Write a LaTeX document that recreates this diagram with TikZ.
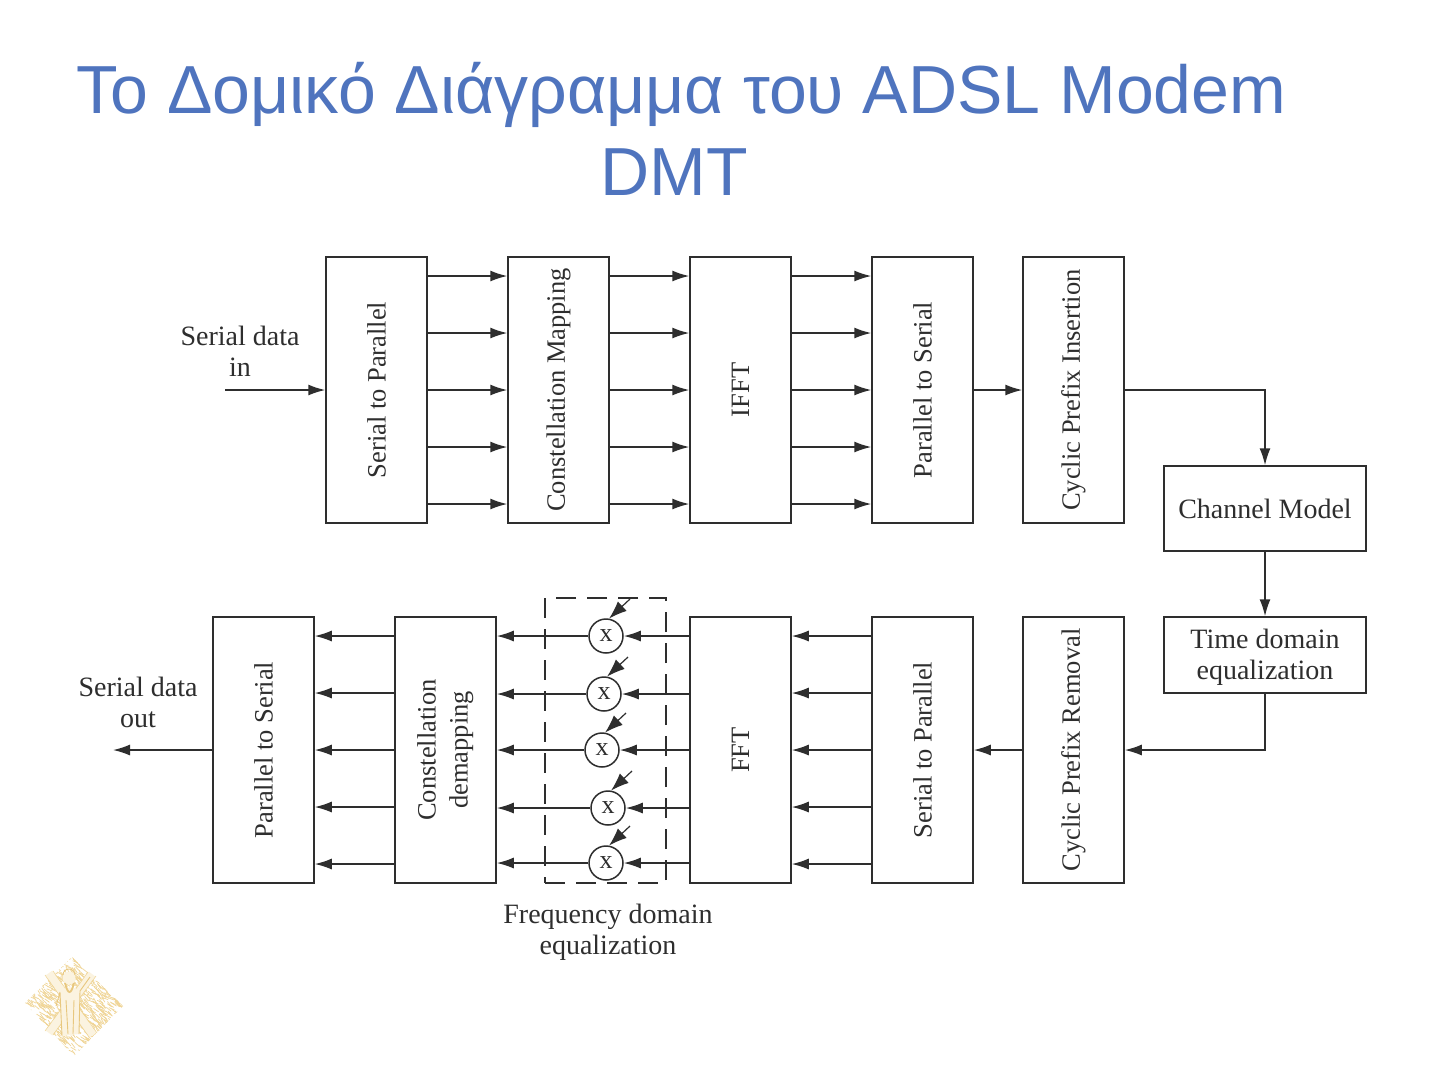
\documentclass[tikz,border=0pt]{standalone}
\usepackage{fontspec}
\setmainfont{Liberation Serif}
\newfontfamily\titlefont{Liberation Sans}
\usetikzlibrary{arrows.meta,calc}
\definecolor{titleblue}{HTML}{4F74BE}
\definecolor{ink}{HTML}{2E2E2E}
\definecolor{gold}{HTML}{F0D596}
\definecolor{goldpale}{HTML}{FBF3E0}
\definecolor{golddeep}{HTML}{E8C77E}
\tikzset{
  every node/.style={font=\fontsize{28}{31}\selectfont,text=ink,inner sep=0pt},
  rotlabel/.style={font=\fontsize{26.5}{31}\selectfont},
  tallbox/.style={draw=ink,line width=1.5pt,minimum width=101pt,minimum height=266pt,align=center,rotlabel},
  widebox/.style={draw=ink,line width=1.5pt,minimum width=202pt,align=center},
  flow/.style={draw=ink,line width=1.5pt,-{Latex[length=17pt,width=11pt]}},
  gain/.style={draw=ink,line width=1.2pt,-{Latex[length=18pt,width=13pt]}},
  mult/.style={circle,draw=ink,line width=1.5pt,minimum size=34pt,fill=white},
  lbl/.style={align=center},
  titletext/.style={font=\titlefont\fontsize{68}{82}\selectfont,text=titleblue,align=center}
}
\begin{document}
\begin{tikzpicture}[x=1pt,y=-1pt]
\useasboundingbox (0,0) rectangle (1440,1080);
\fill[white] (0,0) rectangle (1440,1080);

\node[titletext] (title) at (681.5,129) {Το Δομικό Διάγραμμα του ADSL Modem\\\mbox{DMT\hspace{15pt}}};

% row guides
\foreach \n/\y in {1/276,2/333,3/390,4/447,5/504}{\coordinate (t\n) at (0,\y);}
\foreach \n/\y in {1/636,2/693,3/750,4/807,5/864}{\coordinate (b\n) at (0,\y);}

% top row
\node[tallbox] (sp) at (376.5,390) {\rotatebox{90}{Serial to Parallel}};
\node[tallbox] (cm) at (558.5,390) {\rotatebox{90}{Constellation Mapping}};
\node[tallbox] (ifft) at (740.5,390) {\rotatebox{90}{IFFT}};
\node[tallbox] (ps) at (922.5,390) {\rotatebox{90}{Parallel to Serial}};
\node[tallbox] (cpi) at (1073.5,390) {\rotatebox{90}{Cyclic Prefix Insertion}};

% right column
\node[widebox,minimum height=85pt] (chan) at (1265,508.5) {Channel Model};
\node[widebox,minimum height=76pt] (tde) at (1265,655) {\begin{tabular}{@{}c@{}}\rule{0pt}{28pt}Time domain\\equalization\end{tabular}};

% bottom row
\node[tallbox] (ps2) at (263.5,750) {\rotatebox{90}{Parallel to Serial}};
\node[tallbox] (cd) at (445.5,750) {\rotatebox{90}{\begin{tabular}{@{}c@{}}Constellation\\[1pt]demapping\end{tabular}}};
\node[tallbox] (fft) at (740.5,750) {\rotatebox{90}{FFT}};
\node[tallbox] (sp2) at (922.5,750) {\rotatebox{90}{Serial to Parallel}};
\node[tallbox] (cpr) at (1073.5,750) {\rotatebox{90}{Cyclic Prefix Removal}};

% labels
\node[lbl] (inlbl) at (240,351) {Serial data\\in};
\node[lbl] (outlbl) at (138,702) {Serial data\\out};
\node[lbl] (felbl) at (608,932.5) {Frequency domain\\equalization};
\coordinate (infree) at (225,390);
\coordinate (outfree) at (113,750);

% top arrows
\foreach \n in {1,...,5}{
  \draw[flow] (sp.east |- t\n) -- (cm.west |- t\n);
  \draw[flow] (cm.east |- t\n) -- (ifft.west |- t\n);
  \draw[flow] (ifft.east |- t\n) -- (ps.west |- t\n);
}
\draw[flow] (infree) -- (sp.west |- infree);
\draw[flow] (ps.east |- t3) -- (cpi.west |- t3);
\draw[flow] (cpi.east |- t3) -| (chan.north);
\draw[flow] (chan.south) -- (tde.north);
\draw[flow] (tde.south) |- (cpr.east |- b3);
\draw[flow] (cpr.west |- b3) -- (sp2.east |- b3);

% frequency equaliser
\node[draw=ink,dashed,dash pattern=on 20pt off 11pt,line width=1.3pt,minimum width=121pt,minimum height=285pt] (feq) at (605.5,740.5) {};
\foreach \n/\cx/\cy in {1/606/636,2/604/694,3/602/750,4/608/808,5/606/863}{
  \node[mult] (m\n) at (\cx,\cy) {\fontsize{26}{28}\selectfont x};
  \coordinate (g\n) at (\cx+24,\cy-37);
  \draw[gain] (g\n) -- (m\n.80);
  \draw[flow] (fft.west |- m\n) -- (m\n.east);
  \draw[flow] (m\n.west) -- (cd.east |- m\n);
}
% bottom arrows
\foreach \n in {1,...,5}{
  \draw[flow] (sp2.west |- b\n) -- (fft.east |- b\n);
  \draw[flow] (cd.west |- b\n) -- (ps2.east |- b\n);
}
\draw[flow] (ps2.west |- b3) -- (outfree);

% emblem
\begin{scope}
  \clip (25,1003) -- (72,957) -- (123,1006) -- (74,1056) -- cycle;
  \pgfmathsetseed{11}
  \foreach \i in {1,...,1100}{
    \pgfmathsetmacro{\px}{24+100*rnd}
    \pgfmathsetmacro{\py}{956+100*rnd}
    \pgfmathsetmacro{\pa}{20+40*rnd}
    \draw[gold,line width=0.7pt] (\px,\py) -- ++(\pa:6);
  }
\end{scope}
\draw[goldpale,line width=8pt] (49,973) -- (93,1035);
\draw[goldpale,line width=8pt] (92,974) -- (49,1033);
\draw[gold,line width=0.6pt] (45,975) -- (89,1037) (53,971) -- (97,1033) (88,972) -- (45,1031) (96,976) -- (53,1035);
\fill[goldpale] (60,992) .. controls (66,986) and (74,986) .. (80,991) -- (79,1034) -- (62,1036) -- cycle;
\fill[goldpale] (69,978) circle (6.5pt);
\draw[golddeep,line width=1.8pt] (65,983) .. controls (68,995) and (71,995) .. (74,983);
\draw[golddeep,line width=0.9pt] (63,975) arc (180:360:6) (60,992) -- (62,1036) (66,1000) -- (68,1034) (74,1000) -- (73,1034) (80,991) -- (90,977) (80,991) -- (79,1034) (60,992) -- (56,1006);
\end{tikzpicture}
\end{document}
